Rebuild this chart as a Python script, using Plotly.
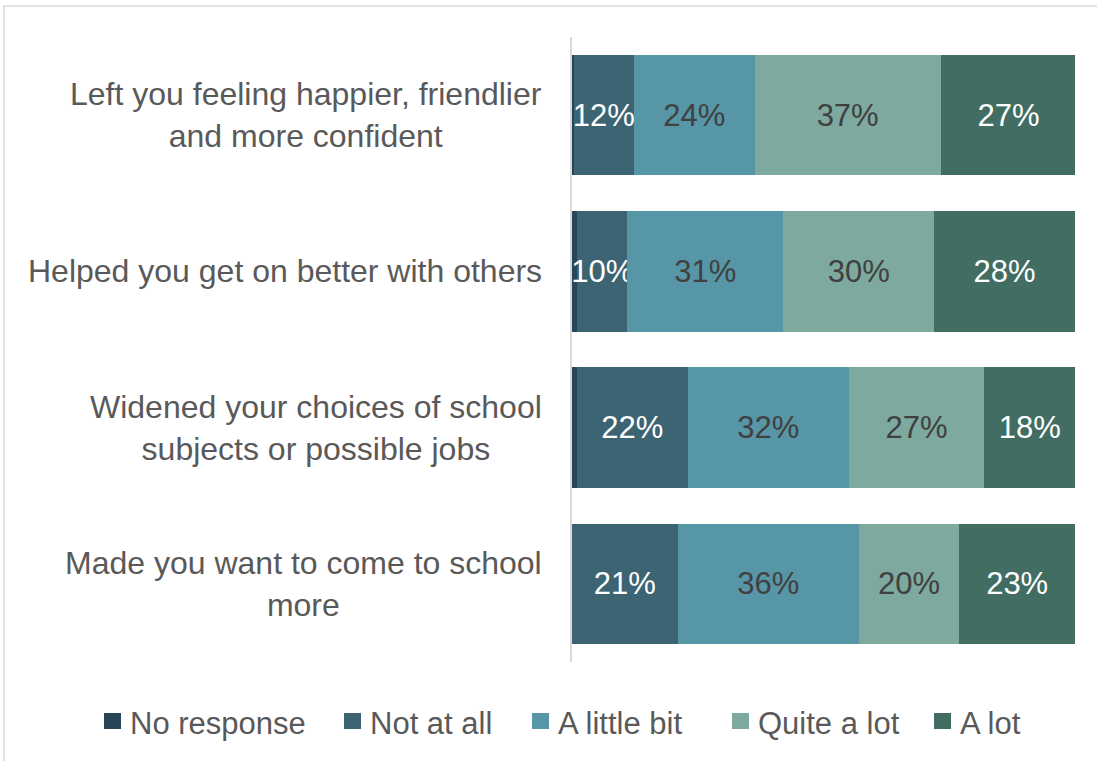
import plotly.graph_objects as go

# Survey statements (top to bottom)
statements = [
    "Left you feeling happier, friendlier<br>and more confident",
    "Helped you get on better with others",
    "Widened your choices of school<br>subjects or possible jobs",
    "Made you want to come to school<br>more",
]

# Response categories and their shares (%) per statement
responses = ["No response", "Not at all", "A little bit", "Quite a lot", "A lot"]
no_response = [0.3, 1, 1, 0]
not_at_all = [12, 10, 22, 21]
a_little_bit = [24, 31, 32, 36]
quite_a_lot = [37, 30, 27, 20]
a_lot = [27, 28, 18, 23]

series = [no_response, not_at_all, a_little_bit, quite_a_lot, a_lot]
colors = ["#284658", "#3D6473", "#5796A6", "#7DA99E", "#426D62"]
label_colors = [None, "white", "#404040", "#404040", "white"]
show_labels = [False, True, True, True, True]

FONT = "Liberation Sans, Arial, sans-serif"
GRAY = "#595959"

# Plot area in pixels (used to place the frame and legend in paper units)
PLOT_L, PLOT_W = 572, 503
PLOT_B, PLOT_H = 662, 625


def px_x(px):
    return (px - PLOT_L) / PLOT_W


def px_y(py):
    return (PLOT_B - py) / PLOT_H


fig = go.Figure()
rows = list(range(len(statements)))
for name, vals, col, lc, show in zip(responses, series, colors, label_colors, show_labels):
    fig.add_trace(go.Bar(
        name=name,
        y=rows,
        x=vals,
        orientation="h",
        marker=dict(color=col, line=dict(width=0)),
        text=[f"{v:g}%" for v in vals] if show else None,
        textposition="inside" if show else "none",
        insidetextanchor="middle",
        textangle=0,
        constraintext="none",
        textfont=dict(family=FONT, size=31, color=lc if lc else "white"),
        hoverinfo="x+name",
        showlegend=False,
    ))

# Statement labels, centred line by line, right-aligned against the axis
for i, s in enumerate(statements):
    fig.add_annotation(
        x=0, xref="paper", y=i, yref="y",
        text=s, showarrow=False,
        xanchor="right", yanchor="middle", align="center",
        xshift=-28,
        font=dict(family=FONT, size=32, color=GRAY),
    )

# Legend row: colour swatch followed by its label
legend_text_left = [129, 369, 557, 757, 959]
for name, col, tx in zip(responses, colors, legend_text_left):
    fig.add_shape(type="rect", xref="paper", yref="paper",
                  x0=px_x(tx - 25), x1=px_x(tx - 8),
                  y0=px_y(729), y1=px_y(713),
                  line=dict(width=0), fillcolor=col)
    fig.add_annotation(
        x=px_x(tx), xref="paper", y=px_y(723), yref="paper",
        text=name, showarrow=False, xanchor="left", yanchor="middle",
        xshift=-1,
        font=dict(family=FONT, size=31, color=GRAY),
    )

# Outer chart frame
fig.add_shape(type="rect", xref="paper", yref="paper",
              x0=px_x(4), x1=px_x(1200), y0=px_y(900), y1=px_y(6),
              line=dict(color="#D9D9D9", width=1.5), fillcolor="rgba(0,0,0,0)",
              layer="below")

fig.update_layout(
    barmode="stack",
    bargap=0.23,
    width=1097, height=761,
    margin=dict(l=PLOT_L, r=1097 - PLOT_L - PLOT_W, t=PLOT_B - PLOT_H,
                b=761 - PLOT_B),
    paper_bgcolor="white", plot_bgcolor="white",
    font=dict(family=FONT, color=GRAY),
    showlegend=False,
    xaxis=dict(range=[0, 100], showgrid=False, zeroline=False,
               showticklabels=False, showline=False, fixedrange=True),
    yaxis=dict(range=[3.5, -0.5], showgrid=False, zeroline=False,
               showticklabels=False, ticks="",
               showline=True, linecolor="#D9D9D9", linewidth=1.5),
)

fig.write_html("out.html")
